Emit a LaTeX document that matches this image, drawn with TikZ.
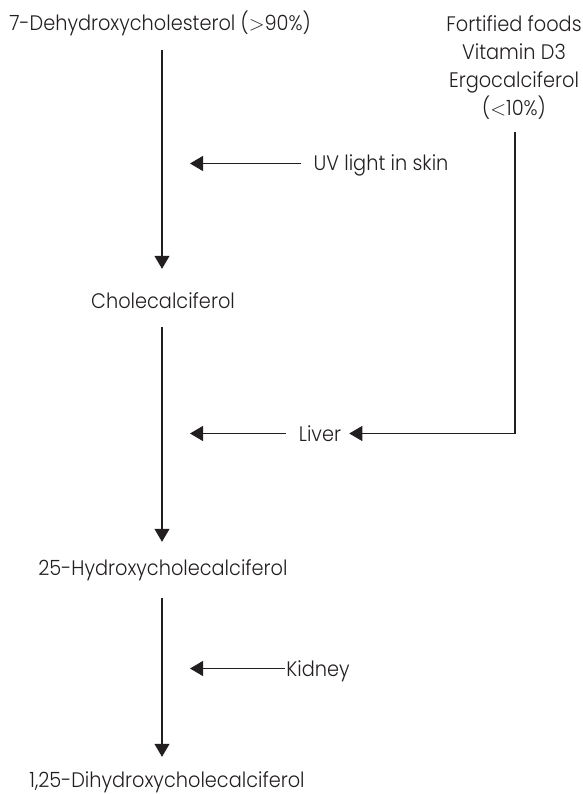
\documentclass[tikz,border=0pt]{standalone}
\usepackage{fontspec}
\setmainfont{Poppins}[FakeStretch=0.92, UprightFont={* Light}]
\usetikzlibrary{arrows.meta,positioning,calc}
\definecolor{inkcol}{RGB}{35,31,32}

\begin{document}
\begin{tikzpicture}[
    x=1pt, y=-1pt,
    >={Triangle[length=13pt, width=15pt]},
    chem/.style={anchor=base, inner sep=0pt, text height=15pt, text depth=0pt, font=\fontsize{21}{28}\selectfont, text=inkcol},
    source/.style={anchor=base, inner sep=0pt, align=center, font=\fontsize{21}{28}\selectfont, text=inkcol},
    arrow/.style={->, draw=inkcol, line width=1.1pt},
]
\useasboundingbox (0,0) rectangle (582,794);
\coordinate (spine) at (162,0);

\node[chem] (dhc) at (160,31) {7-Dehydroxycholesterol ($>$90\%)};
\node[source] (food) at (514,116) {Fortified foods\\Vitamin D3\\Ergocalciferol\\($<$10\%)};
\node[chem] (uv) at (381,171) {UV light in skin};
\node[chem] (chole) at (163,308) {Cholecalciferol};
\node[chem] (liver) at (320,441) {Liver};
\node[chem] (hydroxy) at (163,575) {25-Hydroxycholecalciferol};
\node[chem] (kidney) at (318,676) {Kidney};
\node[chem] (dihydroxy) at (167,787) {1,25-Dihydroxycholecalciferol};

% main pathway
\draw[arrow, shorten <=19pt, shorten >=24pt] (dhc.south -| spine) -- (chole.north -| spine);
\draw[arrow, shorten <=19pt, shorten >=18pt] (chole.south -| spine) -- (hydroxy.north -| spine);
\draw[arrow, shorten <=23pt, shorten >=15pt] (hydroxy.south -| spine) -- (dihydroxy.north -| spine);

% sites of conversion
\draw[arrow, shorten <=12pt, shorten >=28pt] (uv.west) -- (uv.west -| spine);
\draw[arrow, shorten <=13pt, shorten >=28pt] (liver.west) -- (liver.west -| spine);
\draw[arrow, shorten <=1pt, shorten >=28pt] (kidney.west) -- (kidney.west -| spine);
\draw[arrow, shorten <=12pt, shorten >=8pt] ([xshift=1pt]food.south) |- (liver.east);
\end{tikzpicture}
\end{document}
